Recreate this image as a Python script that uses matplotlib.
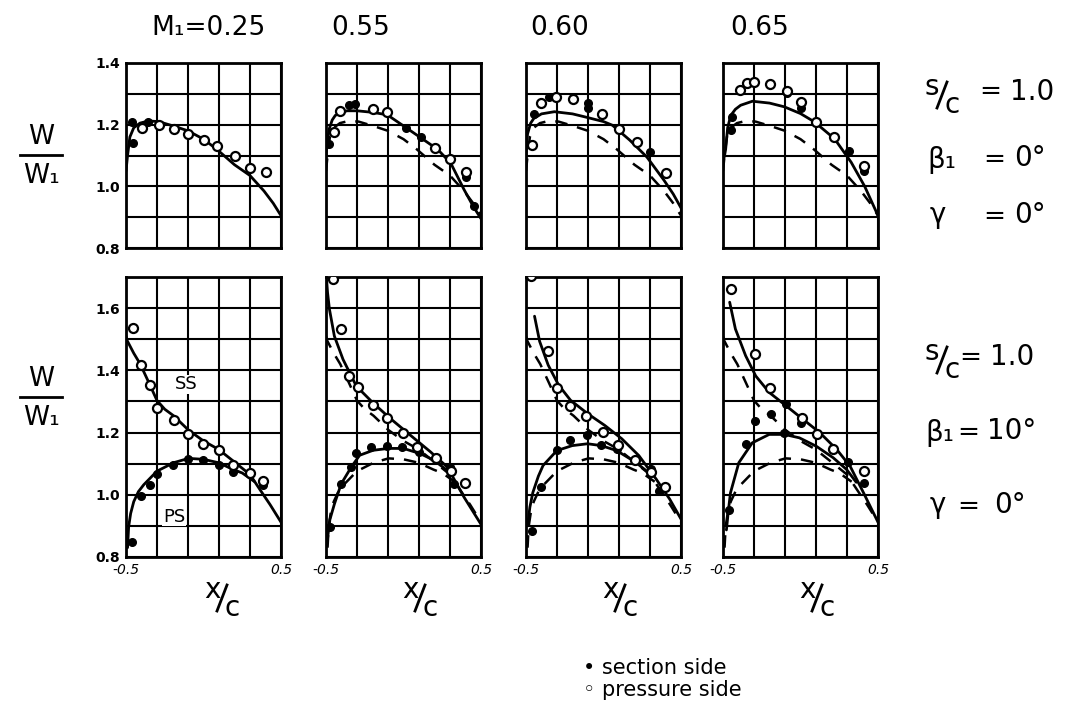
import matplotlib
matplotlib.use("Agg")
import matplotlib.pyplot as plt
from matplotlib.lines import Line2D

plt.rcParams['font.family'] = ['DejaVu Sans']

# ---------------------------------------------------------------
# Column headings (inlet Mach number)
mach_labels = ["M\u2081=0.25", "0.55", "0.60", "0.65"]

# ---------------------------------------------------------------
# Upper row: s/c = 1.0, beta1 = 0 deg  (W/W1 along x/c)
# M1 = 0.25 curve (also shown dashed as reference in the other columns)
top_ref_x = [-0.5, -0.49, -0.475, -0.45, -0.41, -0.355, -0.29, -0.19, -0.1, 0.0, 0.086, 0.2, 0.3, 0.39, 0.45, 0.5]
top_ref_w = [1.05, 1.10, 1.16, 1.19, 1.205, 1.212, 1.21, 1.195, 1.18, 1.153, 1.12, 1.07, 1.035, 0.985, 0.945, 0.905]

top_055_x = [-0.5, -0.49, -0.48, -0.46, -0.44, -0.40, -0.364, -0.3, -0.2, -0.105, 0.0, 0.11, 0.22, 0.305, 0.39, 0.45, 0.5]
top_055_w = [1.10, 1.15, 1.185, 1.215, 1.23, 1.24, 1.245, 1.245, 1.24, 1.232, 1.196, 1.158, 1.12, 1.075, 0.99, 0.935, 0.895]

top_060_x = [-0.5, -0.49, -0.47, -0.45, -0.4, -0.317, -0.2, -0.118, 0.0, 0.058, 0.169, 0.28, 0.39, 0.45, 0.5]
top_060_w = [1.10, 1.17, 1.205, 1.22, 1.235, 1.242, 1.235, 1.225, 1.21, 1.198, 1.15, 1.095, 1.02, 0.975, 0.93]

top_065_x = [-0.495, -0.49, -0.483, -0.47, -0.45, -0.42, -0.386, -0.31, -0.2, -0.105, 0.0, 0.09, 0.22, 0.327, 0.414, 0.5]
top_065_w = [1.09, 1.10, 1.12, 1.19, 1.23, 1.25, 1.263, 1.276, 1.27, 1.258, 1.236, 1.209, 1.154, 1.078, 1.0, 0.905]

# measured points, upper row
top_025_fill_x = [-0.46, -0.455, -0.355]
top_025_fill_w = [1.21, 1.14, 1.21]
top_025_open_x = [-0.4, -0.29, -0.19, -0.1, 0.0, 0.09, 0.2, 0.3, 0.4]
top_025_open_w = [1.19, 1.2, 1.185, 1.17, 1.15, 1.13, 1.1, 1.06, 1.045]

top_055_fill_x = [-0.48, -0.353, -0.31, 0.014, 0.11, 0.4, 0.457]
top_055_fill_w = [1.136, 1.263, 1.266, 1.188, 1.16, 1.03, 0.935]
top_055_open_x = [-0.45, -0.407, -0.2, -0.105, 0.2, 0.3, 0.4]
top_055_open_w = [1.175, 1.245, 1.25, 1.24, 1.125, 1.088, 1.045]

top_060_fill_x = [-0.45, -0.35, -0.1, -0.1, 0.3]
top_060_fill_w = [1.236, 1.289, 1.27, 1.255, 1.11]
top_060_open_x = [-0.46, -0.405, -0.306, -0.2, -0.008, 0.1, 0.213, 0.4]
top_060_open_w = [1.133, 1.271, 1.29, 1.282, 1.233, 1.187, 1.143, 1.042]

top_065_fill_x = [-0.45, -0.44, -0.087, 0.003, 0.316, 0.41]
top_065_fill_w = [1.182, 1.225, 1.302, 1.255, 1.113, 1.05]
top_065_open_x = [-0.39, -0.347, -0.3, -0.195, -0.087, 0.003, 0.1, 0.215, 0.41]
top_065_open_w = [1.313, 1.335, 1.338, 1.331, 1.31, 1.272, 1.209, 1.16, 1.065]

# ---------------------------------------------------------------
# Lower row: s/c = 1.0, beta1 = 10 deg
# M1 = 0.25 suction-side (SS) and pressure-side (PS) curves (dashed reference elsewhere)
bot_ref_ss_x = [-0.5, -0.494, -0.45, -0.408, -0.354, -0.3, -0.25, -0.193, -0.097, 0.0, 0.097, 0.193, 0.3, 0.365, 0.43, 0.5]
bot_ref_ss_w = [1.51, 1.497, 1.455, 1.42, 1.362, 1.303, 1.275, 1.254, 1.208, 1.173, 1.146, 1.108, 1.065, 1.016, 0.968, 0.912]
bot_ref_ps_x = [-0.49, -0.483, -0.47, -0.45, -0.42, -0.386, -0.3, -0.193, -0.097, 0.0, 0.097, 0.193, 0.25, 0.33]
bot_ref_ps_w = [0.83, 0.897, 0.94, 0.978, 1.01, 1.032, 1.076, 1.103, 1.117, 1.114, 1.103, 1.081, 1.07, 1.042]

bot_055_ss_x = [-0.496, -0.49, -0.478, -0.446, -0.39, -0.304, -0.196, -0.087, 0.043, 0.174, 0.283, 0.391, 0.5]
bot_055_ss_w = [1.69, 1.65, 1.597, 1.51, 1.435, 1.349, 1.295, 1.246, 1.192, 1.138, 1.089, 0.992, 0.905]
bot_055_ps_x = [-0.49, -0.475, -0.446, -0.402, -0.337, -0.283, -0.196, -0.098, 0.0, 0.109, 0.196, 0.304]
bot_055_ps_w = [0.86, 0.92, 0.97, 1.035, 1.089, 1.127, 1.143, 1.149, 1.149, 1.132, 1.111, 1.07]

bot_060_ss_x = [-0.445, -0.412, -0.357, -0.29, -0.213, -0.103, 0.008, 0.118, 0.228, 0.339, 0.427, 0.5]
bot_060_ss_w = [1.574, 1.493, 1.417, 1.353, 1.304, 1.261, 1.223, 1.18, 1.126, 1.051, 0.986, 0.922]
bot_060_ps_x = [-0.49, -0.475, -0.456, -0.42, -0.39, -0.301, -0.202, -0.103, -0.014, 0.085, 0.206, 0.317]
bot_060_ps_w = [0.9, 0.96, 1.007, 1.06, 1.094, 1.142, 1.158, 1.164, 1.158, 1.142, 1.105, 1.061]

bot_065_ss_x = [-0.457, -0.42, -0.354, -0.289, -0.202, -0.093, 0.015, 0.124, 0.233, 0.32, 0.407, 0.5]
bot_065_ss_w = [1.619, 1.533, 1.447, 1.382, 1.329, 1.286, 1.243, 1.2, 1.146, 1.092, 1.006, 0.912]
bot_065_ps_x = [-0.478, -0.465, -0.452, -0.398, -0.311, -0.202, -0.104, -0.007, 0.102, 0.211, 0.298, 0.36]
bot_065_ps_w = [0.887, 0.95, 1.006, 1.103, 1.167, 1.194, 1.194, 1.183, 1.156, 1.119, 1.081, 1.04]

# measured points, lower row
bot_025_fill_x = [-0.46, -0.401, -0.348, -0.3, -0.197, -0.097, -0.005, 0.097, 0.193, 0.386]
bot_025_fill_w = [0.849, 0.995, 1.03, 1.067, 1.095, 1.114, 1.111, 1.095, 1.073, 1.03]
bot_025_open_x = [-0.455, -0.403, -0.348, -0.3, -0.193, -0.097, -0.005, 0.097, 0.193, 0.3, 0.386]
bot_025_open_w = [1.535, 1.416, 1.354, 1.279, 1.241, 1.195, 1.164, 1.144, 1.097, 1.07, 1.045]

bot_055_fill_x = [-0.474, -0.402, -0.341, -0.304, -0.207, -0.104, -0.011, 0.098, 0.3, 0.326]
bot_055_fill_w = [0.895, 1.035, 1.089, 1.135, 1.154, 1.156, 1.154, 1.138, 1.089, 1.035]
bot_055_open_x = [-0.457, -0.402, -0.352, -0.293, -0.196, -0.104, -0.004, 0.087, 0.207, 0.304, 0.398]
bot_055_open_w = [1.692, 1.532, 1.381, 1.345, 1.287, 1.246, 1.197, 1.154, 1.119, 1.078, 1.038]

bot_060_fill_x = [-0.46, -0.401, -0.301, -0.213, -0.107, -0.014, 0.085, 0.306, 0.361]
bot_060_fill_w = [0.883, 1.024, 1.145, 1.175, 1.191, 1.161, 1.148, 1.083, 1.013]
bot_060_open_x = [-0.467, -0.357, -0.301, -0.213, -0.114, -0.003, 0.096, 0.206, 0.306, 0.394]
bot_060_open_w = [1.703, 1.461, 1.344, 1.286, 1.252, 1.202, 1.161, 1.113, 1.074, 1.024]

bot_065_fill_x = [-0.463, -0.354, -0.296, -0.191, -0.104, -0.093, 0.004, 0.309, 0.407]
bot_065_fill_w = [0.952, 1.164, 1.237, 1.259, 1.2, 1.291, 1.232, 1.105, 1.038]
bot_065_open_x = [-0.446, -0.296, -0.198, 0.011, 0.107, 0.207, 0.407]
bot_065_open_w = [1.662, 1.452, 1.342, 1.248, 1.194, 1.148, 1.075]

# grid / tick settings
x_grid = [-0.5, -0.3, -0.1, 0.1, 0.3, 0.5]
x_tick_labels = ["-0.5", "", "", "", "", "0.5"]
top_y_grid = [0.8, 0.9, 1.0, 1.1, 1.2, 1.3, 1.4]
top_y_labels = ["0.8", "", "1.0", "", "1.2", "", "1.4"]
bot_y_grid = [0.8, 0.9, 1.0, 1.1, 1.2, 1.3, 1.4, 1.5, 1.6, 1.7]
bot_y_labels = ["0.8", "", "1.0", "", "1.2", "", "1.4", "", "1.6", ""]

# ---------------------------------------------------------------
W, H = 1078, 718
fig = plt.figure(figsize=(W / 100, H / 100), dpi=100)
fig.patch.set_facecolor("white")


def fx(px):
    return px / W


def fy(py):
    return 1 - py / H


col_left = [126, 326, 526, 723]
col_width = 155
top_row = (63, 248)
bot_row = (277, 557)


def make_axes(left, row, ygrid, ylabels, show_y, show_x):
    t, b = row
    ax = fig.add_axes([fx(left), fy(b), col_width / W, (b - t) / H])
    ax.set_xlim(-0.5, 0.5)
    ax.set_ylim(ygrid[0], ygrid[-1])
    ax.set_xticks(x_grid)
    ax.set_yticks(ygrid)
    ax.set_xticklabels(x_tick_labels if show_x else [""] * len(x_grid),
                       fontsize=10, fontstyle="italic")
    ax.set_yticklabels(ylabels if show_y else [""] * len(ygrid),
                       fontsize=10, fontweight="bold")
    ax.tick_params(length=0, pad=4)
    ax.grid(True, color="black", linewidth=1.5)
    for s in ax.spines.values():
        s.set_linewidth(2.0)
        s.set_color("black")
    return ax


solid_kw = dict(color="black", linewidth=2.0, solid_capstyle="round", zorder=3)
dash_kw = dict(color="black", linewidth=1.8, linestyle=(0, (5, 4)), zorder=3)
fill_kw = dict(linestyle="none", marker="o", markersize=5.5, color="black", zorder=4)
open_kw = dict(linestyle="none", marker="o", markersize=6.5, markerfacecolor="white",
               markeredgecolor="black", markeredgewidth=1.6, zorder=5)

top_curves = [(top_ref_x, top_ref_w), (top_055_x, top_055_w),
              (top_060_x, top_060_w), (top_065_x, top_065_w)]
top_fill = [(top_025_fill_x, top_025_fill_w), (top_055_fill_x, top_055_fill_w),
            (top_060_fill_x, top_060_fill_w), (top_065_fill_x, top_065_fill_w)]
top_open = [(top_025_open_x, top_025_open_w), (top_055_open_x, top_055_open_w),
            (top_060_open_x, top_060_open_w), (top_065_open_x, top_065_open_w)]

bot_ss = [(bot_ref_ss_x, bot_ref_ss_w), (bot_055_ss_x, bot_055_ss_w),
          (bot_060_ss_x, bot_060_ss_w), (bot_065_ss_x, bot_065_ss_w)]
bot_ps = [(bot_ref_ps_x, bot_ref_ps_w), (bot_055_ps_x, bot_055_ps_w),
          (bot_060_ps_x, bot_060_ps_w), (bot_065_ps_x, bot_065_ps_w)]
bot_fill = [(bot_025_fill_x, bot_025_fill_w), (bot_055_fill_x, bot_055_fill_w),
            (bot_060_fill_x, bot_060_fill_w), (bot_065_fill_x, bot_065_fill_w)]
bot_open = [(bot_025_open_x, bot_025_open_w), (bot_055_open_x, bot_055_open_w),
            (bot_060_open_x, bot_060_open_w), (bot_065_open_x, bot_065_open_w)]

for i, left in enumerate(col_left):
    # upper row
    ax = make_axes(left, top_row, top_y_grid, top_y_labels, i == 0, False)
    if i > 0:
        ax.plot(top_ref_x, top_ref_w, **dash_kw)
    ax.plot(*top_curves[i], **solid_kw)
    ax.plot(*top_fill[i], **fill_kw)
    ax.plot(*top_open[i], **open_kw)

    # lower row
    ax = make_axes(left, bot_row, bot_y_grid, bot_y_labels, i == 0, True)
    if i > 0:
        ax.plot(bot_ref_ss_x, bot_ref_ss_w, **dash_kw)
        ax.plot(bot_ref_ps_x, bot_ref_ps_w, **dash_kw)
    ax.plot(*bot_ss[i], **solid_kw)
    ax.plot(*bot_ps[i], **solid_kw)
    ax.plot(*bot_fill[i], **fill_kw)
    ax.plot(*bot_open[i], **open_kw)
    if i == 0:
        ax.text(-0.11, 1.355, "SS", fontsize=13, ha="center", va="center",
                zorder=6, bbox=dict(facecolor="white", edgecolor="none", pad=0.5))
        ax.text(-0.19, 0.93, "PS", fontsize=13, ha="center", va="center",
                zorder=6, bbox=dict(facecolor="white", edgecolor="none", pad=0.5))
    for lab in ax.get_xticklabels():
        lab.set_clip_on(False)

# column headings
head_x = [208, 361, 560, 760]
for hx, lab in zip(head_x, mach_labels):
    fig.text(fx(hx), fy(28), lab, fontsize=19, ha="center", va="center")

# W/W1 axis titles
for yc in (155, 397):
    fig.text(fx(41), fy(yc - 18), "W", fontsize=19, ha="center", va="center")
    fig.text(fx(41), fy(yc + 21), "W\u2081", fontsize=19, ha="center", va="center")
    fig.add_artist(Line2D([fx(20), fx(62)], [fy(yc), fy(yc)], color="black",
                          linewidth=2.0, transform=fig.transFigure))


def slash_label(cx, cy, top, bottom, size=20):
    # "top/bottom" shorthand: raised numerator, drawn oblique stroke, lowered denominator
    fig.text(fx(cx - 10), fy(cy - 8), top, fontsize=size, ha="center", va="center")
    fig.add_artist(Line2D([fx(cx - 5), fx(cx + 5)], [fy(cy + 13), fy(cy - 13)],
                          color="black", linewidth=2.0, transform=fig.transFigure))
    fig.text(fx(cx + 10), fy(cy + 10), bottom, fontsize=size, ha="center", va="center")


# x/c labels under the lower row
for cx in (222, 420, 620, 817):
    slash_label(cx, 598, "x", "c")

# parameter blocks on the right
slash_label(942, 95, "s", "c")
fig.text(fx(990), fy(92), "=", fontsize=19, ha="center", va="center")
fig.text(fx(1032), fy(92), "1.0", fontsize=20, ha="center", va="center")
fig.text(fx(942), fy(160), "\u03b2\u2081", fontsize=20, ha="center", va="center")
fig.text(fx(994), fy(160), "=", fontsize=19, ha="center", va="center")
fig.text(fx(1030), fy(158), "0\u00b0", fontsize=20, ha="center", va="center")
fig.text(fx(938), fy(215), "\u03b3", fontsize=20, ha="center", va="center")
fig.text(fx(994), fy(217), "=", fontsize=19, ha="center", va="center")
fig.text(fx(1030), fy(215), "0\u00b0", fontsize=20, ha="center", va="center")

slash_label(942, 360, "s", "c")
fig.text(fx(970), fy(358), "=", fontsize=19, ha="center", va="center")
fig.text(fx(1012), fy(357), "1.0", fontsize=20, ha="center", va="center")
fig.text(fx(940), fy(433), "\u03b2\u2081", fontsize=20, ha="center", va="center")
fig.text(fx(968), fy(433), "=", fontsize=19, ha="center", va="center")
fig.text(fx(1012), fy(431), "10\u00b0", fontsize=20, ha="center", va="center")
fig.text(fx(938), fy(505), "\u03b3", fontsize=20, ha="center", va="center")
fig.text(fx(968), fy(507), "=", fontsize=19, ha="center", va="center")
fig.text(fx(1010), fy(505), "0\u00b0", fontsize=20, ha="center", va="center")

# marker key
fig.text(fx(583), fy(668), "\u2022 section side", fontsize=15, ha="left", va="center")
fig.text(fx(583), fy(690), "\u25e6 pressure side", fontsize=15, ha="left", va="center")

fig.savefig("out.png", dpi=100, facecolor="white")
